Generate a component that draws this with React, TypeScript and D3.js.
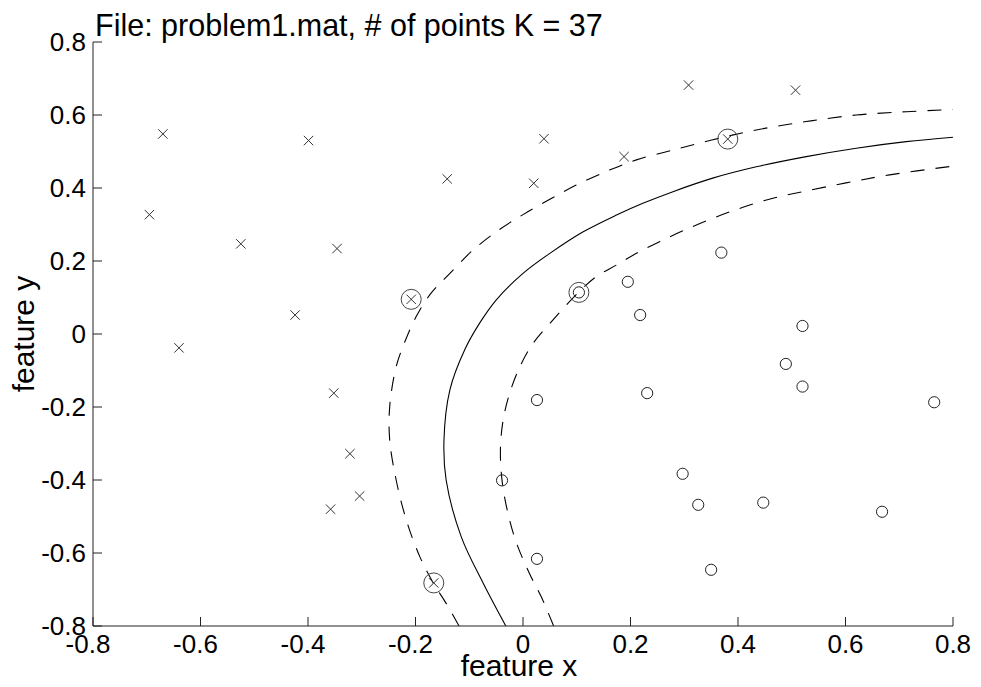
import React from "react";
import * as d3 from "d3";

// ---- data ----
const crossX = [-0.670, -0.399, -0.695, -0.525, -0.346, -0.424, -0.640, -0.352, -0.322, -0.304, -0.358, 0.039, -0.141, 0.020, 0.188, -0.208, 0.308, 0.507, 0.381, -0.166];
const crossY = [0.548, 0.530, 0.327, 0.247, 0.234, 0.052, -0.038, -0.162, -0.328, -0.444, -0.480, 0.535, 0.425, 0.413, 0.486, 0.095, 0.682, 0.668, 0.534, -0.682];

const circleX = [0.104, 0.195, 0.218, 0.369, 0.520, 0.026, 0.231, -0.039, 0.026, 0.489, 0.520, 0.765, 0.297, 0.326, 0.447, 0.668, 0.350];
const circleY = [0.114, 0.143, 0.052, 0.223, 0.022, -0.181, -0.162, -0.401, -0.616, -0.082, -0.144, -0.187, -0.383, -0.468, -0.462, -0.487, -0.646];

// support vectors (circled)
const svX = [-0.208, 0.381, -0.166, 0.104];
const svY = [0.095, 0.534, -0.682, 0.114];

// decision boundary (solid)
const boundaryX = [-0.032, -0.074, -0.115, -0.143, -0.147, -0.136, -0.108, -0.081, -0.050, 0.000, 0.050, 0.112, 0.174, 0.223, 0.279, 0.353, 0.434, 0.527, 0.620, 0.713, 0.800];
const boundaryY = [-0.800, -0.683, -0.555, -0.400, -0.290, -0.153, -0.042, 0.029, 0.093, 0.166, 0.221, 0.280, 0.326, 0.358, 0.390, 0.427, 0.458, 0.486, 0.509, 0.527, 0.539];

// margin (dashed, outer / class x side)
const marginAX = [-0.119, -0.143, -0.167, -0.192, -0.217, -0.236, -0.248, -0.248, -0.236, -0.220, -0.199, -0.171, -0.136, -0.093, -0.043, 0.000, 0.050, 0.099, 0.161, 0.211, 0.279, 0.353, 0.434, 0.527, 0.620, 0.713, 0.800];
const marginAY = [-0.800, -0.738, -0.682, -0.610, -0.510, -0.400, -0.290, -0.199, -0.090, -0.022, 0.047, 0.112, 0.166, 0.230, 0.287, 0.327, 0.369, 0.408, 0.449, 0.477, 0.504, 0.532, 0.559, 0.582, 0.600, 0.609, 0.615];

// margin (dashed, inner / class o side)
const marginBX = [0.057, 0.034, 0.012, -0.012, -0.028, -0.039, -0.042, -0.037, -0.025, -0.006, 0.019, 0.050, 0.104, 0.136, 0.174, 0.211, 0.254, 0.301, 0.353, 0.403, 0.465, 0.527, 0.601, 0.682, 0.800];
const marginBY = [-0.800, -0.720, -0.656, -0.573, -0.491, -0.401, -0.318, -0.236, -0.163, -0.090, -0.025, 0.029, 0.115, 0.157, 0.189, 0.221, 0.253, 0.285, 0.317, 0.344, 0.372, 0.392, 0.414, 0.436, 0.460];

const xTicks = [-0.8, -0.6, -0.4, -0.2, 0, 0.2, 0.4, 0.6, 0.8];
const xTickLabels = ["-0.8", "-0.6", "-0.4", "-0.2", "0", "0.2", "0.4", "0.6", "0.8"];
const yTicks = [-0.8, -0.6, -0.4, -0.2, 0, 0.2, 0.4, 0.6, 0.8];
const yTickLabels = ["-0.8", "-0.6", "-0.4", "-0.2", "0", "0.2", "0.4", "0.6", "0.8"];

const titleText = "File: problem1.mat, # of points K = 37";
const xLabel = "feature x";
const yLabel = "feature y";

// ---- layout ----
const W = 981;
const H = 687;
const left = 93;
const right = 953;
const top = 42;
const bottom = 626;
const FONT = "'Liberation Sans', Arial, Helvetica, sans-serif";

export default function App() {
  const x = d3.scaleLinear().domain([-0.8, 0.8]).range([left, right]);
  const y = d3.scaleLinear().domain([-0.8, 0.8]).range([bottom, top]);

  const line = d3
    .line<[number, number]>()
    .x((d) => x(d[0]))
    .y((d) => y(d[1]))
    .curve(d3.curveCatmullRom.alpha(0.5));

  const zip = (a: number[], b: number[]) => a.map((v, i) => [v, b[i]] as [number, number]);

  const boundary = line(zip(boundaryX, boundaryY)) || "";
  const marginA = line(zip(marginAX, marginAY)) || "";
  const marginB = line(zip(marginBX, marginBY)) || "";

  const mk = "#333";

  return (
    <svg
      width={W}
      height={H}
      style={{ position: "absolute", left: 0, top: 0, background: "#fff" }}
      fontFamily={FONT}
    >
      <rect x={0} y={0} width={W} height={H} fill="#fff" />
      <defs>
        <clipPath id="plotclip">
          <rect x={left} y={top} width={right - left} height={bottom - top} />
        </clipPath>
      </defs>

      <g clipPath="url(#plotclip)" fill="none" stroke="#000" strokeWidth={1.1}>
        <path d={boundary} />
        <path d={marginA} strokeDasharray="14,11" />
        <path d={marginB} strokeDasharray="14,11" />
      </g>

      {/* crosses */}
      <g stroke={mk} strokeWidth={1}>
        {crossX.map((cx, i) => {
          const px = x(cx);
          const py = y(crossY[i]);
          const s = 4.7;
          return (
            <g key={"c" + i}>
              <line x1={px - s} y1={py - s} x2={px + s} y2={py + s} />
              <line x1={px - s} y1={py + s} x2={px + s} y2={py - s} />
            </g>
          );
        })}
      </g>

      {/* circles */}
      <g stroke="#222" strokeWidth={1} fill="none">
        {circleX.map((cx, i) => (
          <circle key={"o" + i} cx={x(cx)} cy={y(circleY[i])} r={5.6} />
        ))}
      </g>

      {/* support vectors */}
      <g stroke="#444" strokeWidth={1} fill="none">
        {svX.map((cx, i) => (
          <circle key={"s" + i} cx={x(cx)} cy={y(svY[i])} r={10} />
        ))}
      </g>

      {/* axes */}
      <g stroke="#222" strokeWidth={1} fill="none">
        <line x1={left} y1={top} x2={left} y2={bottom} />
        <line x1={left} y1={bottom} x2={right} y2={bottom} />
        {xTicks.map((t) => (
          <line key={"xt" + t} x1={x(t)} x2={x(t)} y1={bottom} y2={bottom - 9} />
        ))}
        {yTicks.map((t) => (
          <line key={"yt" + t} x1={left} x2={left + 9} y1={y(t)} y2={y(t)} />
        ))}
      </g>

      <g fontSize={26} fill="#000">
        {xTicks.map((t, i) => (
          <text key={"xl" + t} x={x(t) - (xTickLabels[i].startsWith("-") ? 5 : 0)} y={bottom + 27} textAnchor="middle">
            {xTickLabels[i]}
          </text>
        ))}
        {yTicks.map((t, i) => (
          <text key={"yl" + t} x={left - 7} y={y(t)} dy="0.35em" textAnchor="end">
            {yTickLabels[i]}
          </text>
        ))}
      </g>

      <text x={95} y={36} fontSize={30.5} fill="#000">
        {titleText}
      </text>

      <text x={(left + right) / 2 - 4} y={676} fontSize={30} textAnchor="middle" fill="#000">
        {xLabel}
      </text>
      <text
        transform={`translate(34, ${(top + bottom) / 2}) rotate(-90)`}
        fontSize={30}
        textAnchor="middle"
        fill="#000"
      >
        {yLabel}
      </text>
    </svg>
  );
}
